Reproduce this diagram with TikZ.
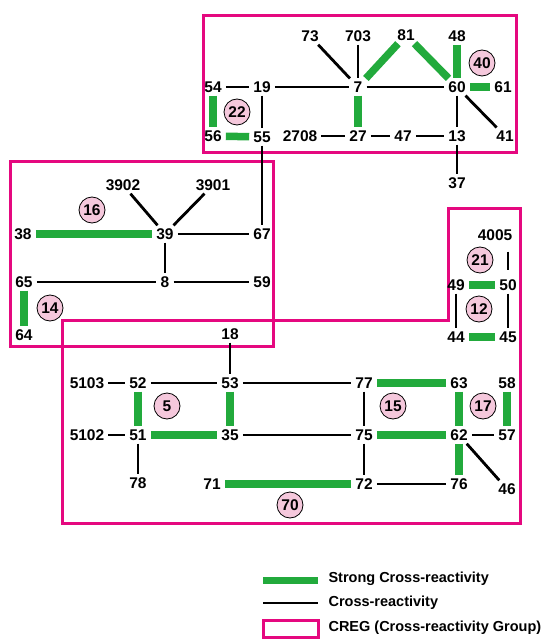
\documentclass[tikz,border=0pt]{standalone}
\usepackage{fontspec}
\setmainfont{Liberation Sans}
\definecolor{cregmag}{HTML}{E5087F}
\definecolor{crossgreen}{HTML}{22AA3C}
\definecolor{grppink}{HTML}{F5C8DC}

\begin{document}
\begin{tikzpicture}[
    x=1pt, y=-1pt,
    num/.style={font=\fontsize{15.5}{18}\selectfont\bfseries, inner xsep=4pt, inner ysep=3pt},
    grp/.style={circle, draw=black, line width=0.8pt, fill=grppink, minimum size=26pt,
                inner sep=0pt, font=\fontsize{15.5}{18}\selectfont\bfseries},
    weak/.style={line width=2.8pt, black},
    strong/.style={line width=7.5pt, crossgreen},
    creg/.style={draw=cregmag, line width=3pt},
    legtext/.style={anchor=west, font=\fontsize{14.5}{17}\selectfont\bfseries}
]
\useasboundingbox (0,0) rectangle (547,639);

% ── CREG boxes ─────────────────────────────────────────────
\draw[creg] (203,16) rectangle (516,153);
\draw[creg] (10,162) rectangle (273,346);
\draw[creg] (62,320) -- (448,320) -- (448,208) -- (520,208) -- (520,523) -- (62,523) -- cycle;

% ── Top group ──────────────────────────────────────────────
\node[num] (n73)   at (310,36)  {73};
\node[num] (n703)  at (358,36)  {703};
\node[num] (n81)   at (406,35)  {81};
\node[num] (n48)   at (457,36)  {48};
\node[num] (n54)   at (213,87)  {54};
\node[num] (n19)   at (262,87)  {19};
\node[num] (n7)    at (358,87)  {7};
\node[num] (n60)   at (457,87)  {60};
\node[num] (n61)   at (503,87)  {61};
\node[num] (n56)   at (213,136) {56};
\node[num] (n55)   at (262,137) {55};
\node[num] (n2708) at (300,136) {2708};
\node[num] (n27)   at (358,136) {27};
\node[num] (n47)   at (403,136) {47};
\node[num] (n13)   at (457,136) {13};
\node[num] (n41)   at (505,136) {41};
\node[num] (n37)   at (457,183) {37};

% ── Middle-left group ──────────────────────────────────────
\node[num] (n3902) at (123,185) {3902};
\node[num] (n3901) at (213,185) {3901};
\node[num] (n38)   at (23,234)  {38};
\node[num] (n39)   at (165,234) {39};
\node[num] (n67)   at (262,234) {67};
\node[num] (n65)   at (24,282)  {65};
\node[num] (n8)    at (165,282) {8};
\node[num] (n59)   at (262,282) {59};
\node[num] (n64)   at (24,335)  {64};

% ── Right group ────────────────────────────────────────────
\node[num] (n4005) at (495,235) {4005};
\node[num] (n49)   at (456,285) {49};
\node[num] (n50)   at (508,285) {50};
\node[num] (n44)   at (456,337) {44};
\node[num] (n45)   at (508,337) {45};

% ── Bottom group ───────────────────────────────────────────
\node[num] (n18)   at (230,334) {18};
\node[num] (n5103) at (87,383)  {5103};
\node[num] (n52)   at (138,383) {52};
\node[num] (n53)   at (230,383) {53};
\node[num] (n77)   at (364,383) {77};
\node[num] (n63)   at (459,383) {63};
\node[num] (n58)   at (507,383) {58};
\node[num] (n5102) at (87,435)  {5102};
\node[num] (n51)   at (138,435) {51};
\node[num] (n35)   at (230,435) {35};
\node[num] (n75)   at (364,435) {75};
\node[num] (n62)   at (459,435) {62};
\node[num] (n57)   at (507,435) {57};
\node[num] (n78)   at (138,483) {78};
\node[num] (n71)   at (212,484) {71};
\node[num] (n72)   at (364,484) {72};
\node[num] (n76)   at (459,484) {76};
\node[num] (n46)   at (507,489) {46};

% ── Cross-reactivity (black) ───────────────────────────────
\foreach \a/\b in {54/19, 19/7, 73/7, 703/7, 7/60, 60/13, 60/41, 2708/27, 27/47, 47/13,
                   19/55, 55/67, 13/37, 3902/39, 3901/39, 39/67, 39/8, 65/8, 8/59,
                   49/44, 50/45, 18/53, 5103/52, 52/53, 53/77, 77/75, 5102/51, 35/75,
                   62/57, 51/78, 75/72, 62/46, 72/76}
    \draw[weak] (n\a) -- (n\b);
\draw[weak, shorten <=8pt, shorten >=6pt] (n4005.south -| n50) -- (n50);

% ── Strong cross-reactivity (green) ────────────────────────
\foreach \a/\b in {81/7, 81/60, 48/60, 60/61, 7/27, 54/56, 56/55, 38/39, 65/64,
                   49/50, 44/45, 77/63, 52/51, 53/35, 63/62, 58/57, 51/35, 75/62,
                   62/76, 71/72}
    \draw[strong] (n\a) -- (n\b);

% ── Group numbers ──────────────────────────────────────────
\node[grp] (g40) at (482,63)  {40};
\node[grp] (g22) at (237,112) {22};
\node[grp] (g16) at (92,210)  {16};
\node[grp] (g14) at (50,308)  {14};
\node[grp] (g21) at (480,260) {21};
\node[grp] (g12) at (479,309) {12};
\node[grp] (g5)  at (167,406) {5};
\node[grp] (g15) at (393,406) {15};
\node[grp] (g17) at (483,406) {17};
\node[grp] (g70) at (290,505) {70};

% ── Legend ─────────────────────────────────────────────────
\coordinate (ls) at (263,580);
\coordinate (lw) at (263,603);
\coordinate (lc) at (263,620);
\draw[strong, line width=7pt] (ls) -- ++(55,0);
\draw[weak] (lw) -- ++(55,0);
\draw[creg] (lc) rectangle ++(55,17);
\node[legtext] (t1) at (325,579) {Strong Cross-reactivity};
\node[legtext] (t2) at (325,603) {Cross-reactivity};
\node[legtext] (t3) at (325,628) {CREG (Cross-reactivity Group)};

\end{tikzpicture}
\end{document}
